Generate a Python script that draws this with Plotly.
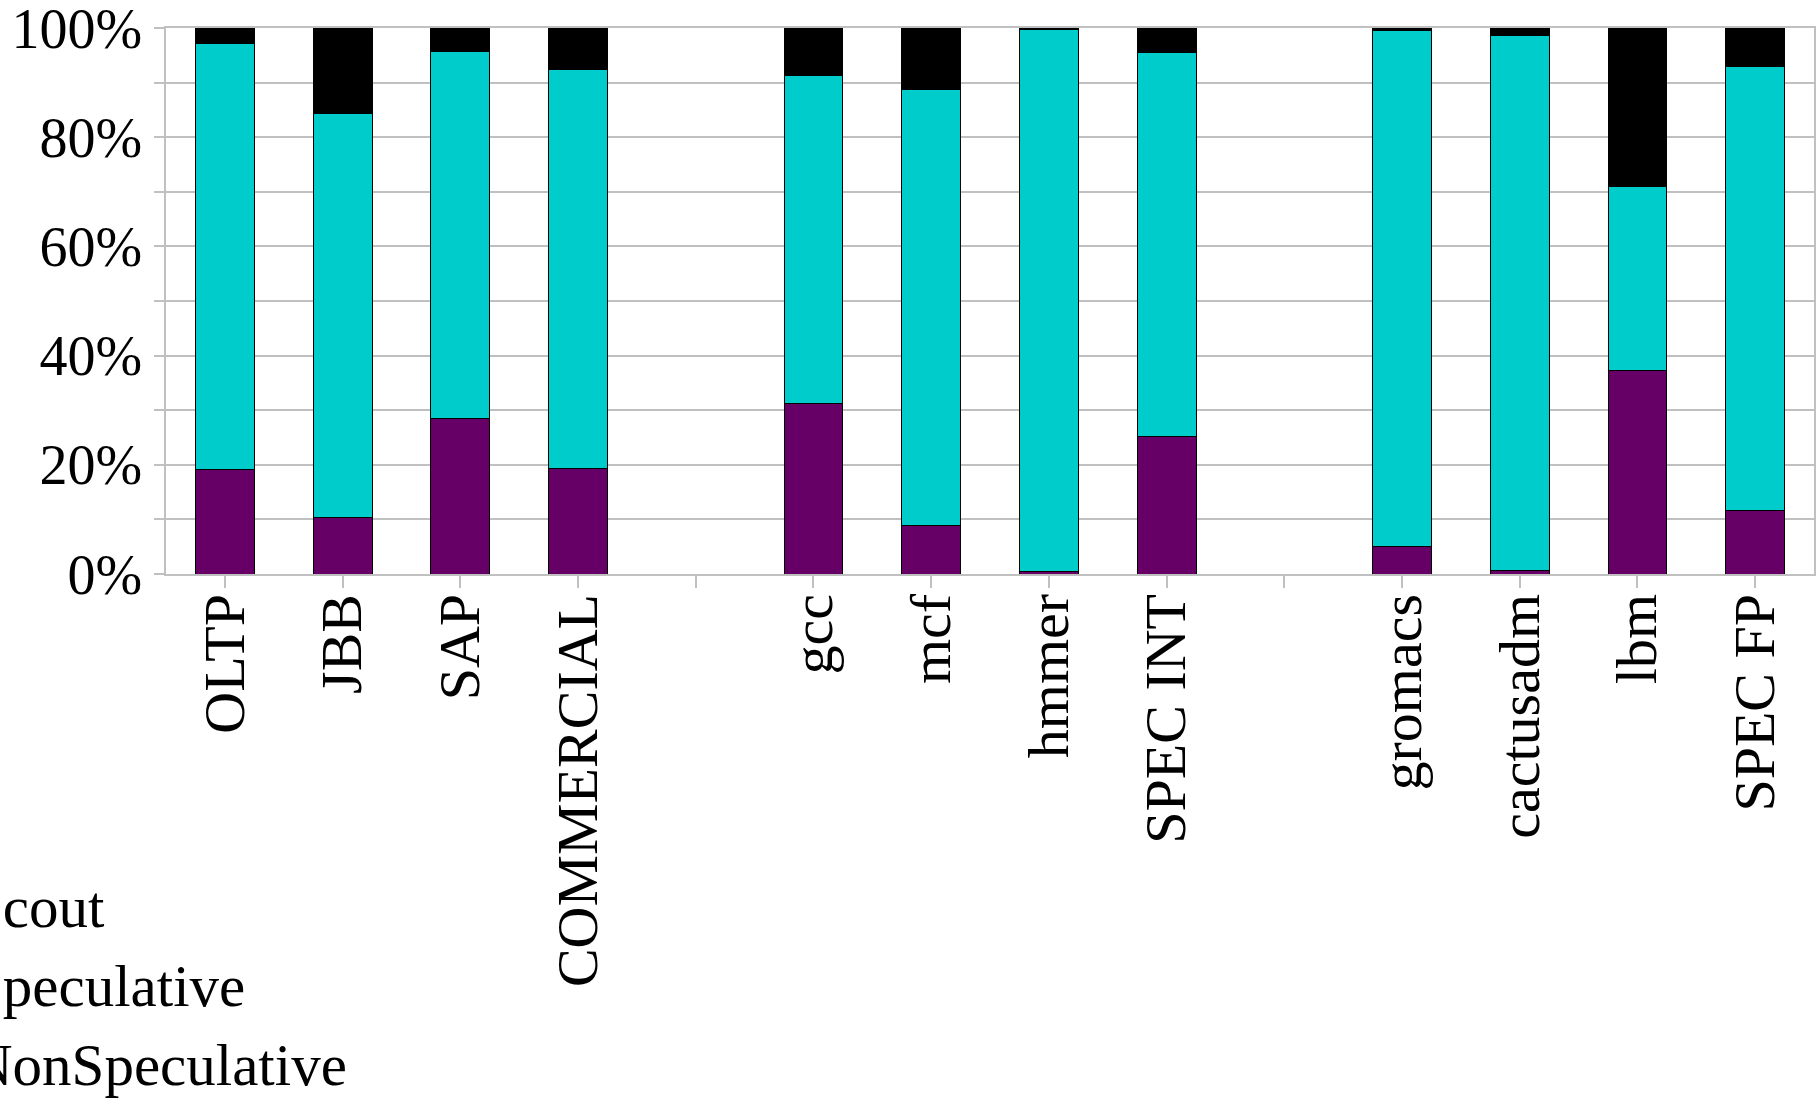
import plotly.graph_objects as go

# Workload categories; the two blank entries are spacer slots between groups
categories = ["OLTP", "JBB", "SAP", "COMMERCIAL", " ",
              "gcc", "mcf", "hmmer", "SPEC INT", "  ",
              "gromacs", "cactusadm", "lbm", "SPEC FP"]

# Percentage breakdown per workload (bottom to top of each stack)
non_speculative = [19.1, 10.4, 28.5, 19.3, None,
                   31.2, 8.9, 0.5, 25.1, None,
                   5.1, 0.7, 37.2, 11.7]
speculative = [78.0, 73.9, 67.2, 73.1, None,
               60.1, 79.8, 99.3, 70.5, None,
               94.5, 97.9, 33.7, 81.3]
scout = [2.9, 15.7, 4.3, 7.6, None,
         8.7, 11.3, 0.2, 4.4, None,
         0.4, 1.4, 29.1, 7.0]

series_names = ["NonSpeculative", "Speculative", "Scout"]
series_values = [non_speculative, speculative, scout]
series_colors = ["#660066", "#00CCCC", "#000000"]

y_ticks = [0, 20, 40, 60, 80, 100]
y_tick_labels = ["0%", "20%", "40%", "60%", "80%", "100%"]

FONT = "Liberation Serif, Times New Roman, serif"
W, H = 1818, 1098
ML, MR, MT, MB = 166, 4, 28, 524
plot_w = W - ML - MR
plot_h = H - MT - MB

fig = go.Figure()
for name, vals, col in zip(series_names, series_values, series_colors):
    fig.add_trace(go.Bar(
        x=categories, y=vals, name=name,
        marker=dict(color=col, line=dict(color="#000000", width=1)),
        showlegend=False,
    ))

# Legend entries, drawn as text rows below the chart (top row = top of stack)
legend_x_px = -32
legend_rows_px = [907, 986, 1065]
for name, y_px in zip(reversed(series_names), legend_rows_px):
    fig.add_annotation(
        text=name, xref="paper", yref="paper",
        x=(legend_x_px - ML) / plot_w, y=(H - MB - y_px) / plot_h,
        xanchor="left", yanchor="middle", showarrow=False,
        font=dict(family=FONT, size=59, color="#000000"),
    )

grid_col = "#c0c0c0"
fig.update_layout(
    width=W, height=H, template="none",
    margin=dict(l=ML, r=MR, t=MT, b=MB, autoexpand=False),
    barmode="stack", bargap=0.5,
    paper_bgcolor="white", plot_bgcolor="white",
    font=dict(family=FONT, size=56, color="#000000"),
    xaxis=dict(
        type="category", categoryorder="array", categoryarray=categories,
        tickangle=-90, automargin=False,
        showline=True, linecolor=grid_col, linewidth=1.5, mirror=True,
        ticks="outside", ticklen=12, tickcolor=grid_col, tickwidth=1.5,
        ticklabelstandoff=-17,
        showgrid=False, tickfont=dict(family=FONT, size=58, color="#000000"),
    ),
    yaxis=dict(
        range=[0, 100], tickvals=y_ticks, ticktext=y_tick_labels,
        automargin=False, ticklabeloverflow="allow",
        showline=True, linecolor=grid_col, linewidth=1.5, mirror=True,
        ticks="outside", ticklen=10, tickcolor=grid_col, tickwidth=1.5,
        showgrid=True, gridcolor=grid_col, gridwidth=1.5,
        ticklabelstandoff=1, zeroline=False,
        minor=dict(dtick=10, showgrid=True, gridcolor=grid_col, gridwidth=1.5,
                   ticks="outside", ticklen=10, tickcolor=grid_col, tickwidth=1.5),
        tickfont=dict(family=FONT, size=56, color="#000000"),
    ),
)

fig.write_html("out.html")
